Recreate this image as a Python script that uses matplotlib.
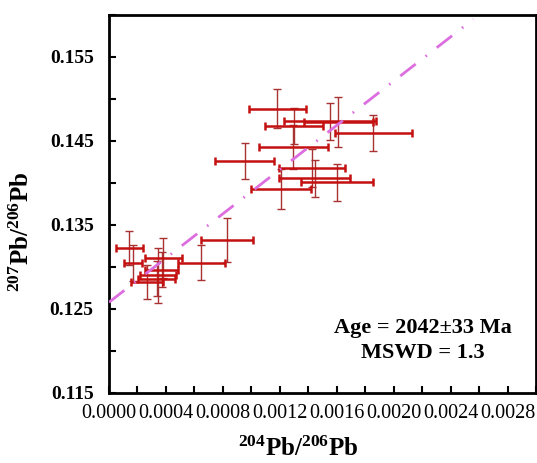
"""Pb-Pb isochron plot, 207Pb/206Pb vs 204Pb/206Pb."""

import matplotlib

matplotlib.use("Agg")
import matplotlib.pyplot as plt
from matplotlib.ticker import FormatStrFormatter, MultipleLocator

# spot analyses
pb204_206 = [0.001181, 0.001302, 0.001295, 0.001552, 0.001610, 0.001858, 0.000952,
             0.001426, 0.001445, 0.001603, 0.001209, 0.000829, 0.000649,
             0.000142, 0.000168, 0.000382, 0.000369, 0.000345, 0.000334, 0.000267]
pb204_err = [0.000200, 0.000205, 0.000244, 0.000326, 0.000243, 0.000272, 0.000205,
             0.000230, 0.000249, 0.000254, 0.000210, 0.000181, 0.000163,
             0.000096, 0.000062, 0.000128, 0.000116, 0.000128, 0.000128, 0.000113]
pb207_206 = [0.14885, 0.14679, 0.14426, 0.14735, 0.14727, 0.14596, 0.14263,
             0.14184, 0.14054, 0.14006, 0.13923, 0.13321, 0.13052,
             0.13223, 0.13044, 0.13104, 0.12970, 0.12902, 0.12863, 0.12822]
pb207_err = [0.00230, 0.00218, 0.00265, 0.00218, 0.00297, 0.00218, 0.00218,
             0.00226, 0.00218, 0.00218, 0.00238, 0.00257, 0.00206,
             0.00200, 0.00214, 0.00240, 0.00210, 0.00330, 0.00210, 0.00200]

# regression line end points
fit_x = [0.0, 0.00256]
fit_y = [0.1258, 0.1595]

plt.rcParams.update({
    "font.family": "Liberation Serif",
    "mathtext.fontset": "custom",
    "mathtext.rm": "Liberation Serif",
    "mathtext.bf": "Liberation Serif:bold",
})

fig = plt.figure(figsize=(5.37, 4.63), dpi=100)
ax = fig.add_axes([109 / 537, 70 / 463, 427 / 537, 378 / 463])

ax.errorbar(pb204_206, pb207_206, yerr=pb207_err, fmt="none", ecolor="#a83232",
            elinewidth=1.0, capsize=3, capthick=1.0, zorder=2)
ax.errorbar(pb204_206, pb207_206, xerr=pb204_err, fmt="none", ecolor="#c41010",
            elinewidth=1.8, capsize=3, capthick=1.8, zorder=3)
ax.plot(fit_x, fit_y, color="#dc6ee0", linewidth=2.0, linestyle=(0, (7, 4.5, 0.6, 4.5)),
        zorder=4)

ax.set_xlim(0, 0.003)
ax.set_ylim(0.115, 0.160)
ax.xaxis.set_major_locator(MultipleLocator(0.0004))
ax.xaxis.set_minor_locator(MultipleLocator(0.0002))
ax.yaxis.set_major_locator(MultipleLocator(0.01, offset=0.005))
ax.yaxis.set_minor_locator(MultipleLocator(0.005))
ax.xaxis.set_major_formatter(FormatStrFormatter("%.4f"))
ax.yaxis.set_major_formatter(FormatStrFormatter("%.3f"))

ax.tick_params(which="both", direction="in", length=5, width=1.5, top=False, right=False)
ax.tick_params(axis="x", labelsize=14.5, pad=8)
ax.tick_params(axis="y", labelsize=14, pad=11)
for label in ax.get_yticklabels():
    label.set_fontweight("bold")
for spine in ax.spines.values():
    spine.set_linewidth(2.0)

ax.set_xlabel(r"$\mathbf{^{204}Pb/^{206}Pb}$", fontsize=18)
ax.set_ylabel(r"$\mathbf{^{207}Pb/^{206}Pb}$", fontsize=18)
ax.xaxis.set_label_coords(0.443, -0.115)
ax.yaxis.set_label_coords(-0.175, 0.426)

ax.text(0.735, 0.172, "Age = 2042\u00b133 Ma", transform=ax.transAxes, ha="center",
        va="center", fontsize=16, fontweight="bold")
ax.text(0.735, 0.106, "MSWD = 1.3", transform=ax.transAxes, ha="center",
        va="center", fontsize=16, fontweight="bold")

fig.savefig("out.png", dpi=100)
